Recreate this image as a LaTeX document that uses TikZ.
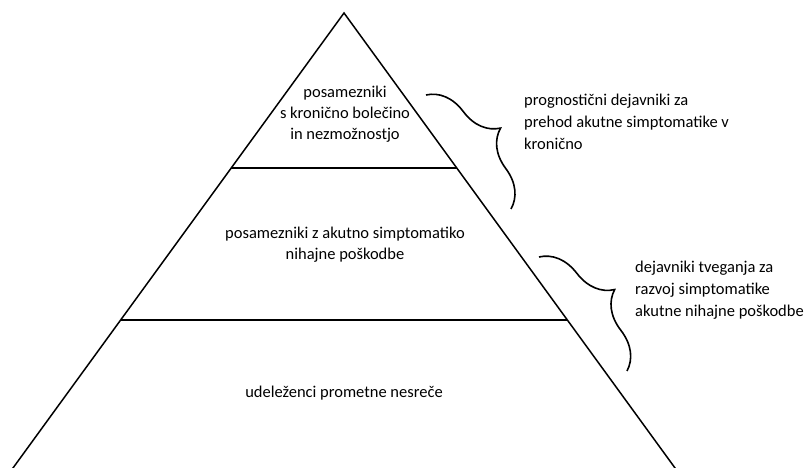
\documentclass[tikz,border=0pt]{standalone}
\usepackage{fontspec}
\setmainfont{Carlito}
\usetikzlibrary{calc,decorations.pathreplacing}
\tikzset{
  edge/.style={line width=1.5pt, line join=miter},
  level/.style={line width=1.6pt},
  lbl/.style={align=center, inner sep=0pt, font=\fontsize{16.5}{21}\selectfont},
  side/.style={align=left, inner sep=0pt, anchor=west, font=\fontsize{16.5}{22}\selectfont},
  curly/.style={line width=1.6pt, decorate, decoration={brace, amplitude=40pt, aspect=0.5}}
}
\begin{document}
\begin{tikzpicture}[x=1pt,y=-1pt]
\useasboundingbox (0,0) rectangle (805,468);
\begin{scope}
\clip (0,0) rectangle (805,468);
\coordinate (A) at (344,13);
\coordinate (BL) at (5.7,478);
\coordinate (BR) at (682.3,478);
\draw[edge] (BL) -- (A) -- (BR);
\coordinate (L1) at ($(A)!0.3333!(BL)$);
\coordinate (R1) at ($(A)!0.3333!(BR)$);
\coordinate (L2) at ($(A)!0.6602!(BL)$);
\coordinate (R2) at ($(A)!0.6602!(BR)$);
\draw[level] (L1) -- (R1);
\draw[level] (L2) -- (R2);
\end{scope}
\node[lbl] (top) at (345,114) {posamezniki\\s kronično bolečino\\in nezmožnostjo};
\node[lbl] (mid) at (345,245) {posamezniki z akutno simptomatiko\\nihajne poškodbe};
\node[lbl] (bot) at (344,393) {udeleženci prometne nesreče};
\coordinate (b1s) at (426,95);
\coordinate (b1e) at (511,209);
\coordinate (b2s) at (539,257);
\coordinate (b2e) at (627,371);
\draw[curly] (b1s) -- (b1e);
\draw[curly] (b2s) -- (b2e);
\node[side] (t1) at (524,122) {prognostični dejavniki za\\prehod akutne simptomatike v\\kronično};
\node[side] (t2) at (635,290) {dejavniki tveganja za\\razvoj simptomatike\\akutne nihajne poškodbe};
\end{tikzpicture}
\end{document}
